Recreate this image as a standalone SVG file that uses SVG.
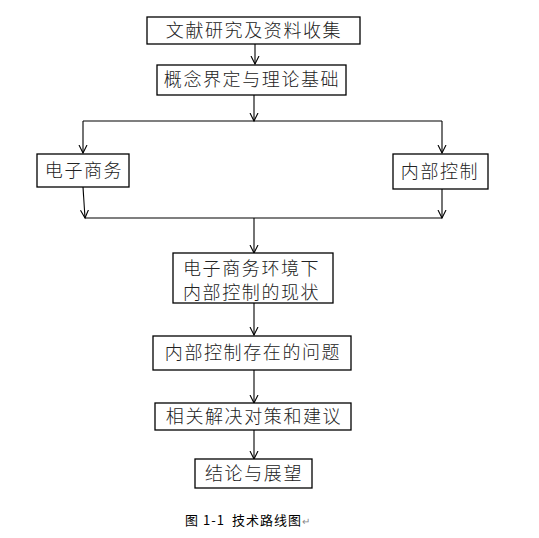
<svg xmlns="http://www.w3.org/2000/svg" width="539" height="538" viewBox="0 0 539 538">
<style>
.box{fill:#fff;stroke:#000;stroke-width:1.3}
.t{font-family:"Noto Sans CJK SC","Liberation Sans",sans-serif;font-size:18px;font-weight:300;letter-spacing:1.6px;fill:#222}
.c{fill:none;stroke:#000;stroke-width:1.1}
.cap{font-family:"Noto Sans CJK SC",sans-serif;font-size:13px;fill:#000;letter-spacing:1px}
</style>
<defs>
<marker id="ah" markerWidth="10" markerHeight="10" refX="8" refY="5" orient="auto" markerUnits="userSpaceOnUse">
<polyline points="0,1 8,5 0,9" fill="none" stroke="#000" stroke-width="1.1"/>
</marker>
</defs>
<rect width="539" height="538" fill="#fff"/>
<g id="connectors">
<line class="c" x1="255" y1="44" x2="255" y2="64" marker-end="url(#ah)"/>
<line class="c" x1="254" y1="95" x2="254" y2="121" marker-end="url(#ah)"/>
<line class="c" x1="83" y1="121" x2="442" y2="121"/>
<line class="c" x1="83" y1="121" x2="83" y2="153" marker-end="url(#ah)"/>
<line class="c" x1="442" y1="121" x2="442" y2="153" marker-end="url(#ah)"/>
<line class="c" x1="83" y1="187" x2="85" y2="218" marker-end="url(#ah)"/>
<line class="c" x1="442" y1="189" x2="442" y2="218" marker-end="url(#ah)"/>
<line class="c" x1="85" y1="218" x2="442" y2="218"/>
<line class="c" x1="254" y1="218" x2="254" y2="253" marker-end="url(#ah)"/>
<line class="c" x1="254" y1="303" x2="254" y2="335" marker-end="url(#ah)"/>
<line class="c" x1="254" y1="370" x2="254" y2="403" marker-end="url(#ah)"/>
<line class="c" x1="254" y1="430" x2="254" y2="459" marker-end="url(#ah)"/>
</g>
<g id="n1">
<rect class="box" x="147" y="17" width="213" height="27"/>
<text class="t" x="254" y="37" text-anchor="middle">文献研究及资料收集</text>
</g>
<g id="n2">
<rect class="box" x="157" y="65" width="189" height="30"/>
<text class="t" x="252" y="86" text-anchor="middle">概念界定与理论基础</text>
</g>
<g id="n3">
<rect class="box" x="37" y="154" width="92" height="33"/>
<text class="t" x="84" y="177" text-anchor="middle">电子商务</text>
</g>
<g id="n4">
<rect class="box" x="393" y="154" width="95" height="35"/>
<text class="t" x="440" y="178" text-anchor="middle">内部控制</text>
</g>
<g id="n5">
<rect class="box" x="173" y="253" width="160" height="50"/>
<text class="t" x="183" y="275">电子商务环境下</text>
<text class="t" x="183" y="299">内部控制的现状</text>
</g>
<g id="n6">
<rect class="box" x="153" y="336" width="198" height="34"/>
<text class="t" x="253" y="359" text-anchor="middle">内部控制存在的问题</text>
</g>
<g id="n7">
<rect class="box" x="155" y="403" width="196" height="27"/>
<text class="t" x="254" y="423" text-anchor="middle">相关解决对策和建议</text>
</g>
<g id="n8">
<rect class="box" x="195" y="459" width="117" height="29"/>
<text class="t" x="254" y="480" text-anchor="middle">结论与展望</text>
</g>
<g id="caption">
<text class="cap" x="185" y="525">图<tspan dx="4">1-1</tspan><tspan dx="7">技术路线图</tspan><tspan fill="#888" font-size="10">↵</tspan></text>
</g>
</svg>
